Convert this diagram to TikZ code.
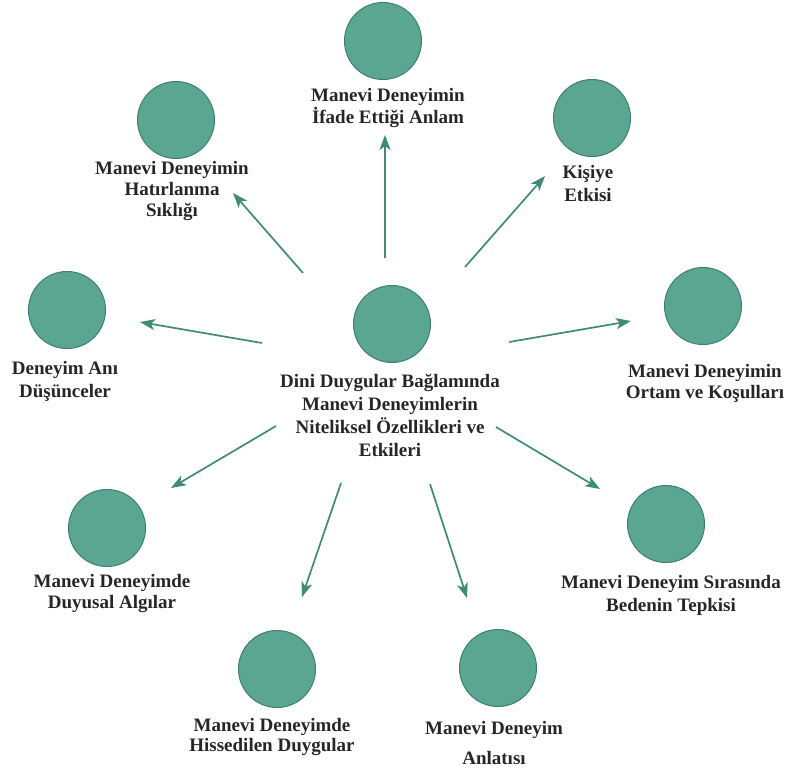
\documentclass[tikz,border=0pt]{standalone}
\usepackage{fontspec}
\setmainfont{Liberation Serif}
\usetikzlibrary{arrows.meta}
\definecolor{circfill}{RGB}{91,165,147}
\definecolor{circline}{RGB}{62,128,112}
\definecolor{arrowcol}{RGB}{64,138,120}
\begin{document}
\begin{tikzpicture}[
                x = 1pt, y = -1pt,
                > = {Stealth[length=15pt,width=11pt,inset=4pt]},
                semithick
                ]

                \tikzstyle{point}=[
                        draw = circline,
                        circle,
                        line width = 1pt,
                        fill = circfill,
                        minimum size = 77pt,
                        inner sep = 0pt
                ]
                \tikzstyle{caption}=[
                        align = center,
                        font = \fontsize{19}{23}\selectfont\bfseries,
                        text = black!85,
                        inner sep = 0pt
                ]
                \tikzstyle{link}=[
                        ->,
                        draw = arrowcol,
                        line width = 1.7pt
                ]

                \useasboundingbox (0,0) rectangle (791,769);

                \node[point] (centre) at (392,324) {};
                \node[point] (top) at (383,41) {};
                \node[point] (topleft) at (176,120) {};
                \node[point] (topright) at (592,118) {};
                \node[point] (left) at (67,310) {};
                \node[point] (right) at (703,306) {};
                \node[point] (lowleft) at (107,528) {};
                \node[point] (lowright) at (666,524) {};
                \node[point] (botleft) at (277,669) {};
                \node[point] (botright) at (498,668) {};

                \node[caption] (centrelbl) at (390,415) {Dini Duygular Bağlamında\\Manevi Deneyimlerin\\Niteliksel Özellikleri ve\\Etkileri};
                \node[caption] (toplbl) at (388,108) {Manevi Deneyimin\\[-2pt]İfade Ettiği Anlam};
                \node[caption] (topleftlbl) at (172,191) {Manevi Deneyimin\\[-2pt]Hatırlanma\\[-2pt]Sıklığı};
                \node[caption] (toprightlbl) at (588,183) {Kişiye\\Etkisi};
                \node[caption] (leftlbl) at (65,381) {Deneyim Anı\\Düşünceler};
                \node[caption] (rightlbl) at (705,383) {Manevi Deneyimin\\[-2pt]Ortam ve Koşulları};
                \node[caption] (lowleftlbl) at (112,593) {Manevi Deneyimde\\[-2pt]Duyusal Algılar};
                \node[caption] (lowrightlbl) at (671,595) {Manevi Deneyim Sırasında\\Bedenin Tepkisi};
                \node[caption] (botleftlbl) at (272,737) {Manevi Deneyimde\\[-3pt]Hissedilen Duygular};
                \node[caption] (botrightlbl) at (494,743) {Manevi Deneyim\\[7pt]Anlatısı};

                \coordinate (a1) at (385,258);  \coordinate (b1) at (385,135);
                \coordinate (a2) at (303,273);  \coordinate (b2) at (233,193);
                \coordinate (a3) at (465,267);  \coordinate (b3) at (545,176);
                \coordinate (a4) at (262,343);  \coordinate (b4) at (140,322);
                \coordinate (a5) at (509,342);  \coordinate (b5) at (631,321);
                \coordinate (a6) at (276,426);  \coordinate (b6) at (171,488);
                \coordinate (a7) at (496,427);  \coordinate (b7) at (600,489);
                \coordinate (a8) at (341,483);  \coordinate (b8) at (302,597);
                \coordinate (a9) at (430,484);  \coordinate (b9) at (467,598);

                \draw[link] (a1) -- (b1);
                \draw[link] (a2) -- (b2);
                \draw[link] (a3) -- (b3);
                \draw[link] (a4) -- (b4);
                \draw[link] (a5) -- (b5);
                \draw[link] (a6) -- (b6);
                \draw[link] (a7) -- (b7);
                \draw[link] (a8) -- (b8);
                \draw[link] (a9) -- (b9);
\end{tikzpicture}
\end{document}
